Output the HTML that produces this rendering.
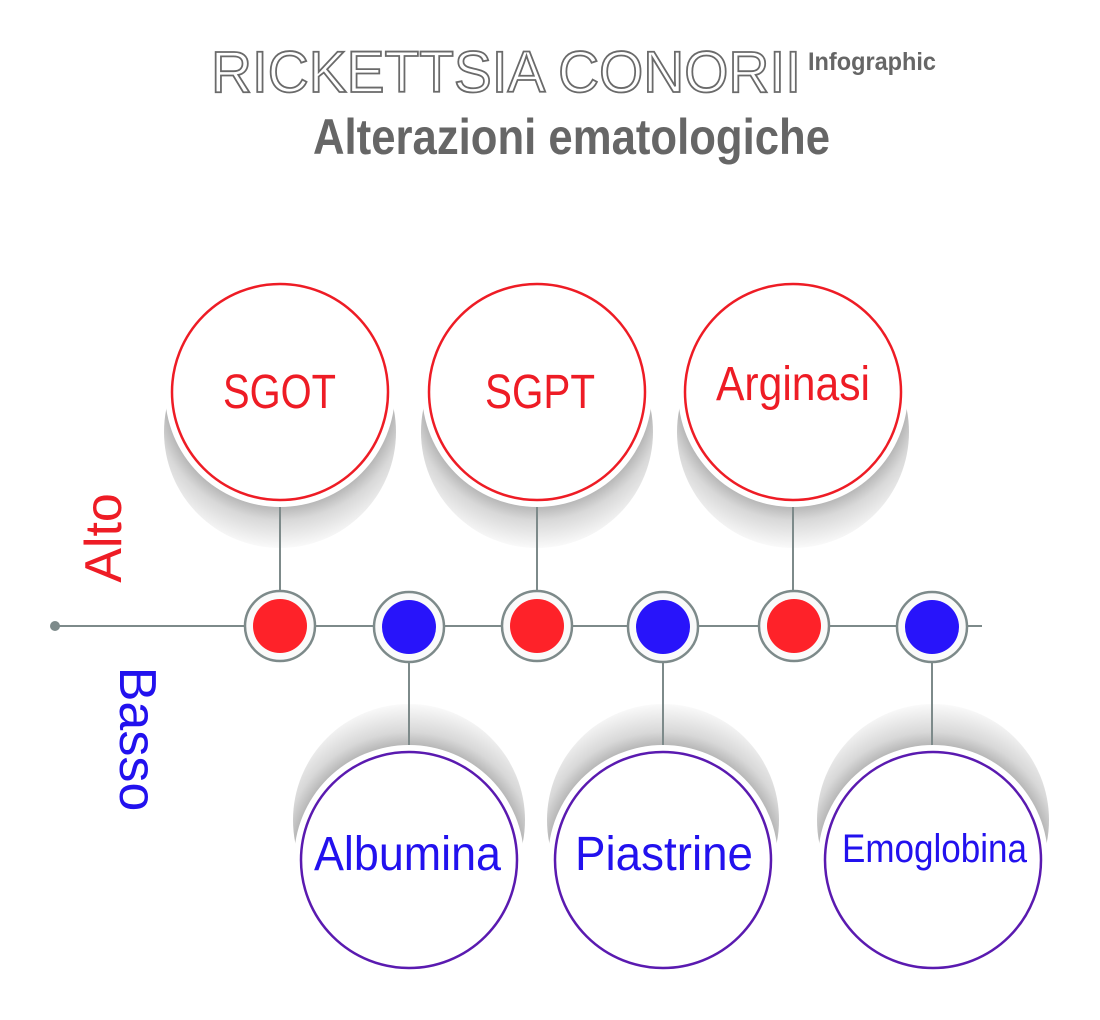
<!DOCTYPE html>
<html><head><meta charset="utf-8"><style>
html,body{margin:0;padding:0;background:#fff;width:1100px;height:1020px;overflow:hidden}
svg{display:block}
text{font-family:"Liberation Sans Narrow","Liberation Sans",sans-serif}
</style></head><body>
<svg width="1100" height="1020" viewBox="0 0 1100 1020" xmlns="http://www.w3.org/2000/svg">
<defs>
<radialGradient id="gT1" gradientUnits="userSpaceOnUse" cx="280" cy="392" r="160"><stop offset="0.68" stop-color="#a8a8a8"/><stop offset="0.8" stop-color="#d8d8d8"/><stop offset="1" stop-color="#fff"/></radialGradient>
<radialGradient id="gT2" gradientUnits="userSpaceOnUse" cx="537" cy="392" r="160"><stop offset="0.68" stop-color="#a8a8a8"/><stop offset="0.8" stop-color="#d8d8d8"/><stop offset="1" stop-color="#fff"/></radialGradient>
<radialGradient id="gT3" gradientUnits="userSpaceOnUse" cx="793" cy="392" r="160"><stop offset="0.68" stop-color="#a8a8a8"/><stop offset="0.8" stop-color="#d8d8d8"/><stop offset="1" stop-color="#fff"/></radialGradient>
<radialGradient id="gB1" gradientUnits="userSpaceOnUse" cx="409" cy="860" r="160"><stop offset="0.68" stop-color="#a8a8a8"/><stop offset="0.8" stop-color="#d8d8d8"/><stop offset="1" stop-color="#fff"/></radialGradient>
<radialGradient id="gB2" gradientUnits="userSpaceOnUse" cx="663" cy="860" r="160"><stop offset="0.68" stop-color="#a8a8a8"/><stop offset="0.8" stop-color="#d8d8d8"/><stop offset="1" stop-color="#fff"/></radialGradient>
<radialGradient id="gB3" gradientUnits="userSpaceOnUse" cx="933" cy="860" r="160"><stop offset="0.68" stop-color="#a8a8a8"/><stop offset="0.8" stop-color="#d8d8d8"/><stop offset="1" stop-color="#fff"/></radialGradient>
</defs>

<!-- title -->
<text x="211" y="92" font-size="58" font-family="Liberation Sans" fill="#fff" stroke="#6a6a6a" stroke-width="1.8" textLength="590" lengthAdjust="spacingAndGlyphs">RICKETTSIA CONORII</text>
<text x="808" y="70" font-size="25" font-weight="bold" fill="#666" textLength="128" lengthAdjust="spacingAndGlyphs">Infographic</text>
<text x="313" y="154" font-size="50" font-weight="bold" fill="#666" textLength="517" lengthAdjust="spacingAndGlyphs">Alterazioni ematologiche</text>

<!-- shadows -->
<circle cx="280" cy="432" r="116" fill="url(#gT1)"/>
<circle cx="537" cy="432" r="116" fill="url(#gT2)"/>
<circle cx="793" cy="432" r="116" fill="url(#gT3)"/>
<circle cx="409" cy="820" r="116" fill="url(#gB1)"/>
<circle cx="663" cy="820" r="116" fill="url(#gB2)"/>
<circle cx="933" cy="820" r="116" fill="url(#gB3)"/>

<!-- axis -->
<line x1="55" y1="626" x2="982" y2="626" stroke="#7d8a8a" stroke-width="2"/>
<circle cx="55" cy="626" r="5" fill="#7d8a8a"/>

<!-- connectors -->
<g stroke="#7d8a8a" stroke-width="2">
<line x1="280" y1="500" x2="280" y2="592"/>
<line x1="537" y1="500" x2="537" y2="592"/>
<line x1="793" y1="500" x2="793" y2="592"/>
<line x1="409" y1="660" x2="409" y2="752"/>
<line x1="663" y1="660" x2="663" y2="752"/>
<line x1="932" y1="660" x2="932" y2="752"/>
</g>

<!-- big circles -->
<g stroke-width="2.5">
<circle cx="280" cy="392" r="115" fill="#fff" stroke="none"/>
<circle cx="280" cy="392" r="108" fill="#fff" stroke="#ee1c25"/>
<circle cx="537" cy="392" r="115" fill="#fff" stroke="none"/>
<circle cx="537" cy="392" r="108" fill="#fff" stroke="#ee1c25"/>
<circle cx="793" cy="392" r="115" fill="#fff" stroke="none"/>
<circle cx="793" cy="392" r="108" fill="#fff" stroke="#ee1c25"/>
<circle cx="409" cy="860" r="115" fill="#fff" stroke="none"/>
<circle cx="409" cy="860" r="108" fill="#fff" stroke="#5a1ab0"/>
<circle cx="663" cy="860" r="115" fill="#fff" stroke="none"/>
<circle cx="663" cy="860" r="108" fill="#fff" stroke="#5a1ab0"/>
<circle cx="933" cy="860" r="115" fill="#fff" stroke="none"/>
<circle cx="933" cy="860" r="108" fill="#fff" stroke="#5a1ab0"/>
</g>

<g font-size="48">
<text x="223" y="408" fill="#ee1c25" textLength="113" lengthAdjust="spacingAndGlyphs">SGOT</text>
<text x="485" y="408" fill="#ee1c25" textLength="110" lengthAdjust="spacingAndGlyphs">SGPT</text>
<text x="716" y="400" fill="#ee1c25" textLength="154" lengthAdjust="spacingAndGlyphs">Arginasi</text>
<text x="314" y="870" fill="#2211ee" textLength="187" lengthAdjust="spacingAndGlyphs">Albumina</text>
<text x="575" y="870" fill="#2211ee" textLength="178" lengthAdjust="spacingAndGlyphs">Piastrine</text>
<text x="842" y="862" font-size="40" fill="#2211ee" textLength="185" lengthAdjust="spacingAndGlyphs">Emoglobina</text>
</g>

<!-- nodes -->
<g stroke="#7d8a8a" stroke-width="2.5" fill="#fafafa">
<circle cx="280" cy="626" r="35"/>
<circle cx="409" cy="627" r="35"/>
<circle cx="537" cy="626" r="35"/>
<circle cx="663" cy="627" r="35"/>
<circle cx="794" cy="626" r="35"/>
<circle cx="932" cy="627" r="35"/>
</g>
<circle cx="280" cy="626" r="27" fill="#fe2229"/>
<circle cx="409" cy="627" r="27" fill="#2814fa"/>
<circle cx="537" cy="626" r="27" fill="#fe2229"/>
<circle cx="663" cy="627" r="27" fill="#2814fa"/>
<circle cx="794" cy="626" r="27" fill="#fe2229"/>
<circle cx="932" cy="627" r="27" fill="#2814fa"/>

<!-- side labels -->
<text transform="translate(121,538) rotate(-90)" text-anchor="middle" font-size="52" fill="#ee1c25">Alto</text>
<text transform="translate(120,739) rotate(90)" text-anchor="middle" font-size="52" fill="#2211ee">Basso</text>
</svg>
</body></html>
